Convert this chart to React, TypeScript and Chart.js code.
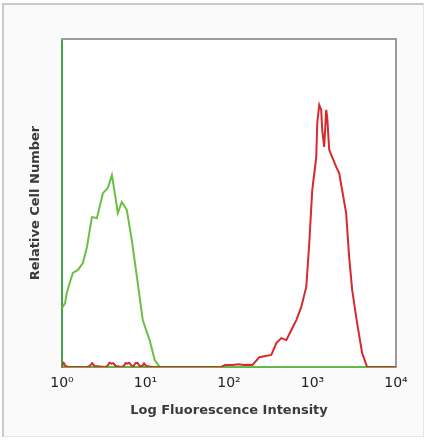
import { useEffect, useRef } from "react";
import { Chart, registerables } from "chart.js";

Chart.register(...registerables);

const tickValues = [1, 10, 100, 1000, 10000];
const tickLabels = ["10⁰", "10¹", "10²", "10³", "10⁴"];

const xTitle = "Log Fluorescence Intensity";
const yTitle = "Relative Cell Number";

const greenX = [1, 1.09, 1.14, 1.25, 1.35, 1.55, 1.78, 1.99, 2.28, 2.62, 3.09, 3.54, 3.96, 4.29, 4.66, 5.2, 5.97, 6.85, 8.08, 9.27, 11.2, 12.9, 14.8, 10000];
const greenY = [18, 19.5, 22.6, 26, 28.7, 29.6, 31.7, 36.6, 45.7, 45.4, 53, 54.6, 58.5, 53, 46.9, 50.3, 47.9, 38.7, 25.6, 14.3, 8.2, 2.1, 0, 0];

const redX = [1, 1.05, 1.1, 1.2, 2.0, 2.15, 2.3, 2.45, 3.3, 3.5, 3.7, 3.9, 4.1, 4.4, 5.2, 5.5, 5.8, 6.1, 6.4, 6.8, 7.2, 7.6, 8.0, 8.5, 9.2, 9.6, 10.2, 12, 80, 90, 110, 130, 150, 170, 191, 231, 321, 369, 424, 486, 558, 640, 734, 842, 915, 993, 1109, 1140, 1205, 1271, 1307, 1380, 1459, 1500, 1585, 1722, 1923, 2086, 2265, 2529, 2748, 2985, 3423, 3929, 4508, 10000];
const redY = [0.3, 1.2, 0.3, 0, 0, 0.3, 1.2, 0.3, 0, 0.3, 1.3, 1.0, 1.2, 0.3, 0, 0.3, 1.2, 1.0, 1.3, 0.4, 0.3, 1.2, 1.3, 0.3, 0.4, 1.1, 0.3, 0, 0, 0.6, 0.6, 0.8, 0.6, 0.7, 0.6, 3, 3.7, 7.3, 8.8, 8.2, 11.3, 14.3, 18.3, 24.4, 37.8, 53.9, 64, 74.4, 79.9, 78.4, 72.3, 67.1, 78.4, 76.2, 66.2, 64, 61, 59.1, 53.9, 46.9, 33.5, 23.5, 13.4, 4.3, 0, 0];

const plotBg = {
  id: "plotBg",
  beforeDraw(chart: any) {
    const { ctx, chartArea } = chart;
    ctx.save();
    ctx.fillStyle = "#ffffff";
    ctx.fillRect(chartArea.left, chartArea.top, chartArea.right - chartArea.left, chartArea.bottom - chartArea.top);
    ctx.restore();
  },
};

export default function App() {
  const ref = useRef<HTMLCanvasElement>(null);

  useEffect(() => {
    document.body.style.margin = "0";
    const chart = new Chart(ref.current!, {
      type: "line",
      data: {
        datasets: [
          {
            label: "Stained",
            data: redX.map((x, i) => ({ x, y: redY[i] })),
            borderColor: "#d62a2c",
            borderWidth: 2,
            pointRadius: 0,
            fill: false,
            tension: 0,
          },
          {
            label: "Control",
            data: greenX.map((x, i) => ({ x, y: greenY[i] })),
            borderColor: "#6cbf46",
            borderWidth: 2,
            pointRadius: 0,
            fill: false,
            tension: 0,
          },
        ],
      },
      options: {
        animation: false,
        responsive: false,
        layout: { padding: { left: 0, top: 39, right: 38, bottom: 0 } },
        plugins: { legend: { display: false }, tooltip: { enabled: false } },
        scales: {
          x: {
            type: "logarithmic",
            position: "bottom",
            min: 1,
            max: 10000,
            afterBuildTicks: (s: any) => {
              s.ticks = tickValues.map((v) => ({ value: v }));
            },
            afterFit: (s: any) => {
              s.height = 73;
            },
            ticks: {
              autoSkip: false,
              maxRotation: 0,
              padding: 8,
              color: "#222222",
              font: { family: "DejaVu Sans", size: 14 },
              callback: (v: any) => {
                const i = tickValues.indexOf(Number(v));
                return i >= 0 ? tickLabels[i] : "";
              },
            },
            grid: { display: false, drawTicks: false },
            border: { display: true, color: "#5cb84a", width: 2 },
            title: {
              display: true,
              text: xTitle,
              color: "#3a3a3a",
              font: { family: "DejaVu Sans", size: 13, weight: "bold" },
              padding: { top: 0, bottom: 22 },
            },
          },
          y: {
            type: "linear",
            position: "left",
            min: 0,
            max: 100,
            afterFit: (s: any) => {
              s.width = 62;
            },
            ticks: { display: false },
            grid: { display: false, drawTicks: false },
            border: { display: true, color: "#45a44a", width: 2 },
            title: {
              display: true,
              text: yTitle,
              color: "#3a3a3a",
              font: { family: "DejaVu Sans", size: 13, weight: "bold" },
              padding: { top: 28, bottom: 0 },
            },
          },
          x2: {
            type: "linear",
            position: "top",
            display: true,
            ticks: { display: false },
            grid: { display: false, drawTicks: false },
            border: { display: true, color: "#9c9c9c", width: 2 },
            afterFit: (s: any) => {
              s.height = 0;
            },
          },
          y2: {
            type: "linear",
            position: "right",
            display: true,
            ticks: { display: false },
            grid: { display: false, drawTicks: false },
            border: { display: true, color: "#9c9c9c", width: 2 },
            afterFit: (s: any) => {
              s.width = 0;
            },
          },
        },
      },
      plugins: [plotBg],
    } as any);
    return () => chart.destroy();
  }, []);

  return (
    <div style={{ position: "relative", width: 434, height: 440, overflow: "hidden" }}>
      <div
        style={{
          position: "absolute",
          left: 2,
          top: 3,
          width: 419,
          height: 431,
          borderLeft: "2px solid #c9c9c9",
          borderTop: "2px solid #c9c9c9",
          borderRight: "1px solid #e6e6e6",
          borderBottom: "1px solid #e6e6e6",
          background: "#fafafa",
        }}
      />
      <canvas ref={ref} width={434} height={440} style={{ position: "absolute", left: 0, top: 0 }} />
    </div>
  );
}
